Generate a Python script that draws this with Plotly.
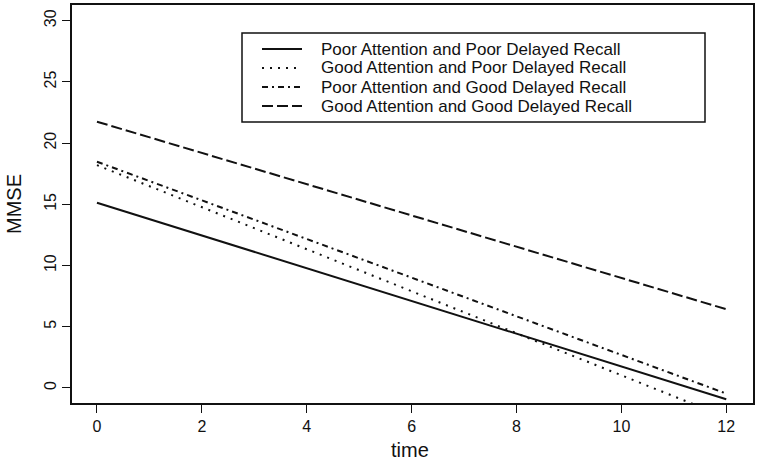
import plotly.graph_objects as go

# ---- data ----
time_points = [0, 12]
poor_att_poor_dr = [15.13, -0.92]
good_att_poor_dr = [18.2, -2.4]
poor_att_good_dr = [18.48, -0.46]
good_att_good_dr = [21.75, 6.43]

series_names = [
    "Poor Attention and Poor Delayed Recall",
    "Good Attention and Poor Delayed Recall",
    "Poor Attention and Good Delayed Recall",
    "Good Attention and Good Delayed Recall",
]
series_values = [poor_att_poor_dr, good_att_poor_dr, poor_att_good_dr, good_att_good_dr]
dash_styles = ["solid", "2px,6px", "6px,4px,2px,4px", "11px,4px"]

x_ticks = [0, 2, 4, 6, 8, 10, 12]
y_ticks = [0, 5, 10, 15, 20, 25, 30]

FONT = "Liberation Sans, Arial, sans-serif"
INK = "#111111"

W, H = 758, 462
ML, MR, MT, MB = 72, 5, 5, 59
PW, PH = W - ML - MR, H - MT - MB


def px_x(px):
    return (px - ML) / PW


def px_y(py):
    return (H - MB - py) / PH


fig = go.Figure()
for name, vals, dash in zip(series_names, series_values, dash_styles):
    fig.add_trace(go.Scatter(
        x=time_points, y=vals, mode="lines", name=name,
        line=dict(color=INK, width=2, dash=dash),
        showlegend=False,
    ))

# ---- manual legend (R style, tightly packed) ----
fig.add_shape(type="rect", xref="paper", yref="paper",
              x0=px_x(242), x1=px_x(705), y0=px_y(122), y1=px_y(33),
              line=dict(color=INK, width=1.5), fillcolor="white", layer="above")
entry_px = [49, 68, 87, 106]
for name, dash, ey in zip(series_names, dash_styles, entry_px):
    fig.add_shape(type="line", xref="paper", yref="paper",
                  x0=px_x(262), x1=px_x(302), y0=px_y(ey), y1=px_y(ey),
                  line=dict(color=INK, width=2, dash=dash), layer="above")
    fig.add_annotation(xref="paper", yref="paper", x=px_x(320), y=px_y(ey),
                       text=name, showarrow=False, xanchor="left", yanchor="middle",
                       borderpad=0,
                       font=dict(family=FONT, size=17, color=INK))

# ---- axis titles ----
fig.add_annotation(xref="paper", yref="paper", x=px_x(410), y=0, yshift=-47,
                   text="time", showarrow=False, xanchor="center", yanchor="middle",
                   font=dict(family=FONT, size=20, color=INK))
fig.add_annotation(xref="paper", yref="paper", x=0, xshift=-58, y=0.5,
                   text="MMSE", showarrow=False, textangle=-90,
                   xanchor="center", yanchor="middle",
                   font=dict(family=FONT, size=20, color=INK))

axis_common = dict(
    showgrid=False, zeroline=False, showline=True, mirror=True, automargin=False,
    linecolor=INK, linewidth=1.5, ticks="outside", ticklen=8, tickwidth=1.2,
    tickcolor=INK, tickfont=dict(family=FONT, size=16, color=INK),
)

fig.update_layout(
    width=W, height=H,
    margin=dict(l=ML, r=MR, t=MT, b=MB),
    paper_bgcolor="white", plot_bgcolor="white",
    font=dict(family=FONT, color=INK),
    xaxis=dict(range=[-0.476, 12.51], tickvals=x_ticks, **axis_common),
    yaxis=dict(range=[-1.23, 31.28], tickvals=y_ticks, tickangle=-90, **axis_common),
)

fig.write_html("out.html", config={"displayModeBar": False},
               post_script="document.body.style.margin='0';")
